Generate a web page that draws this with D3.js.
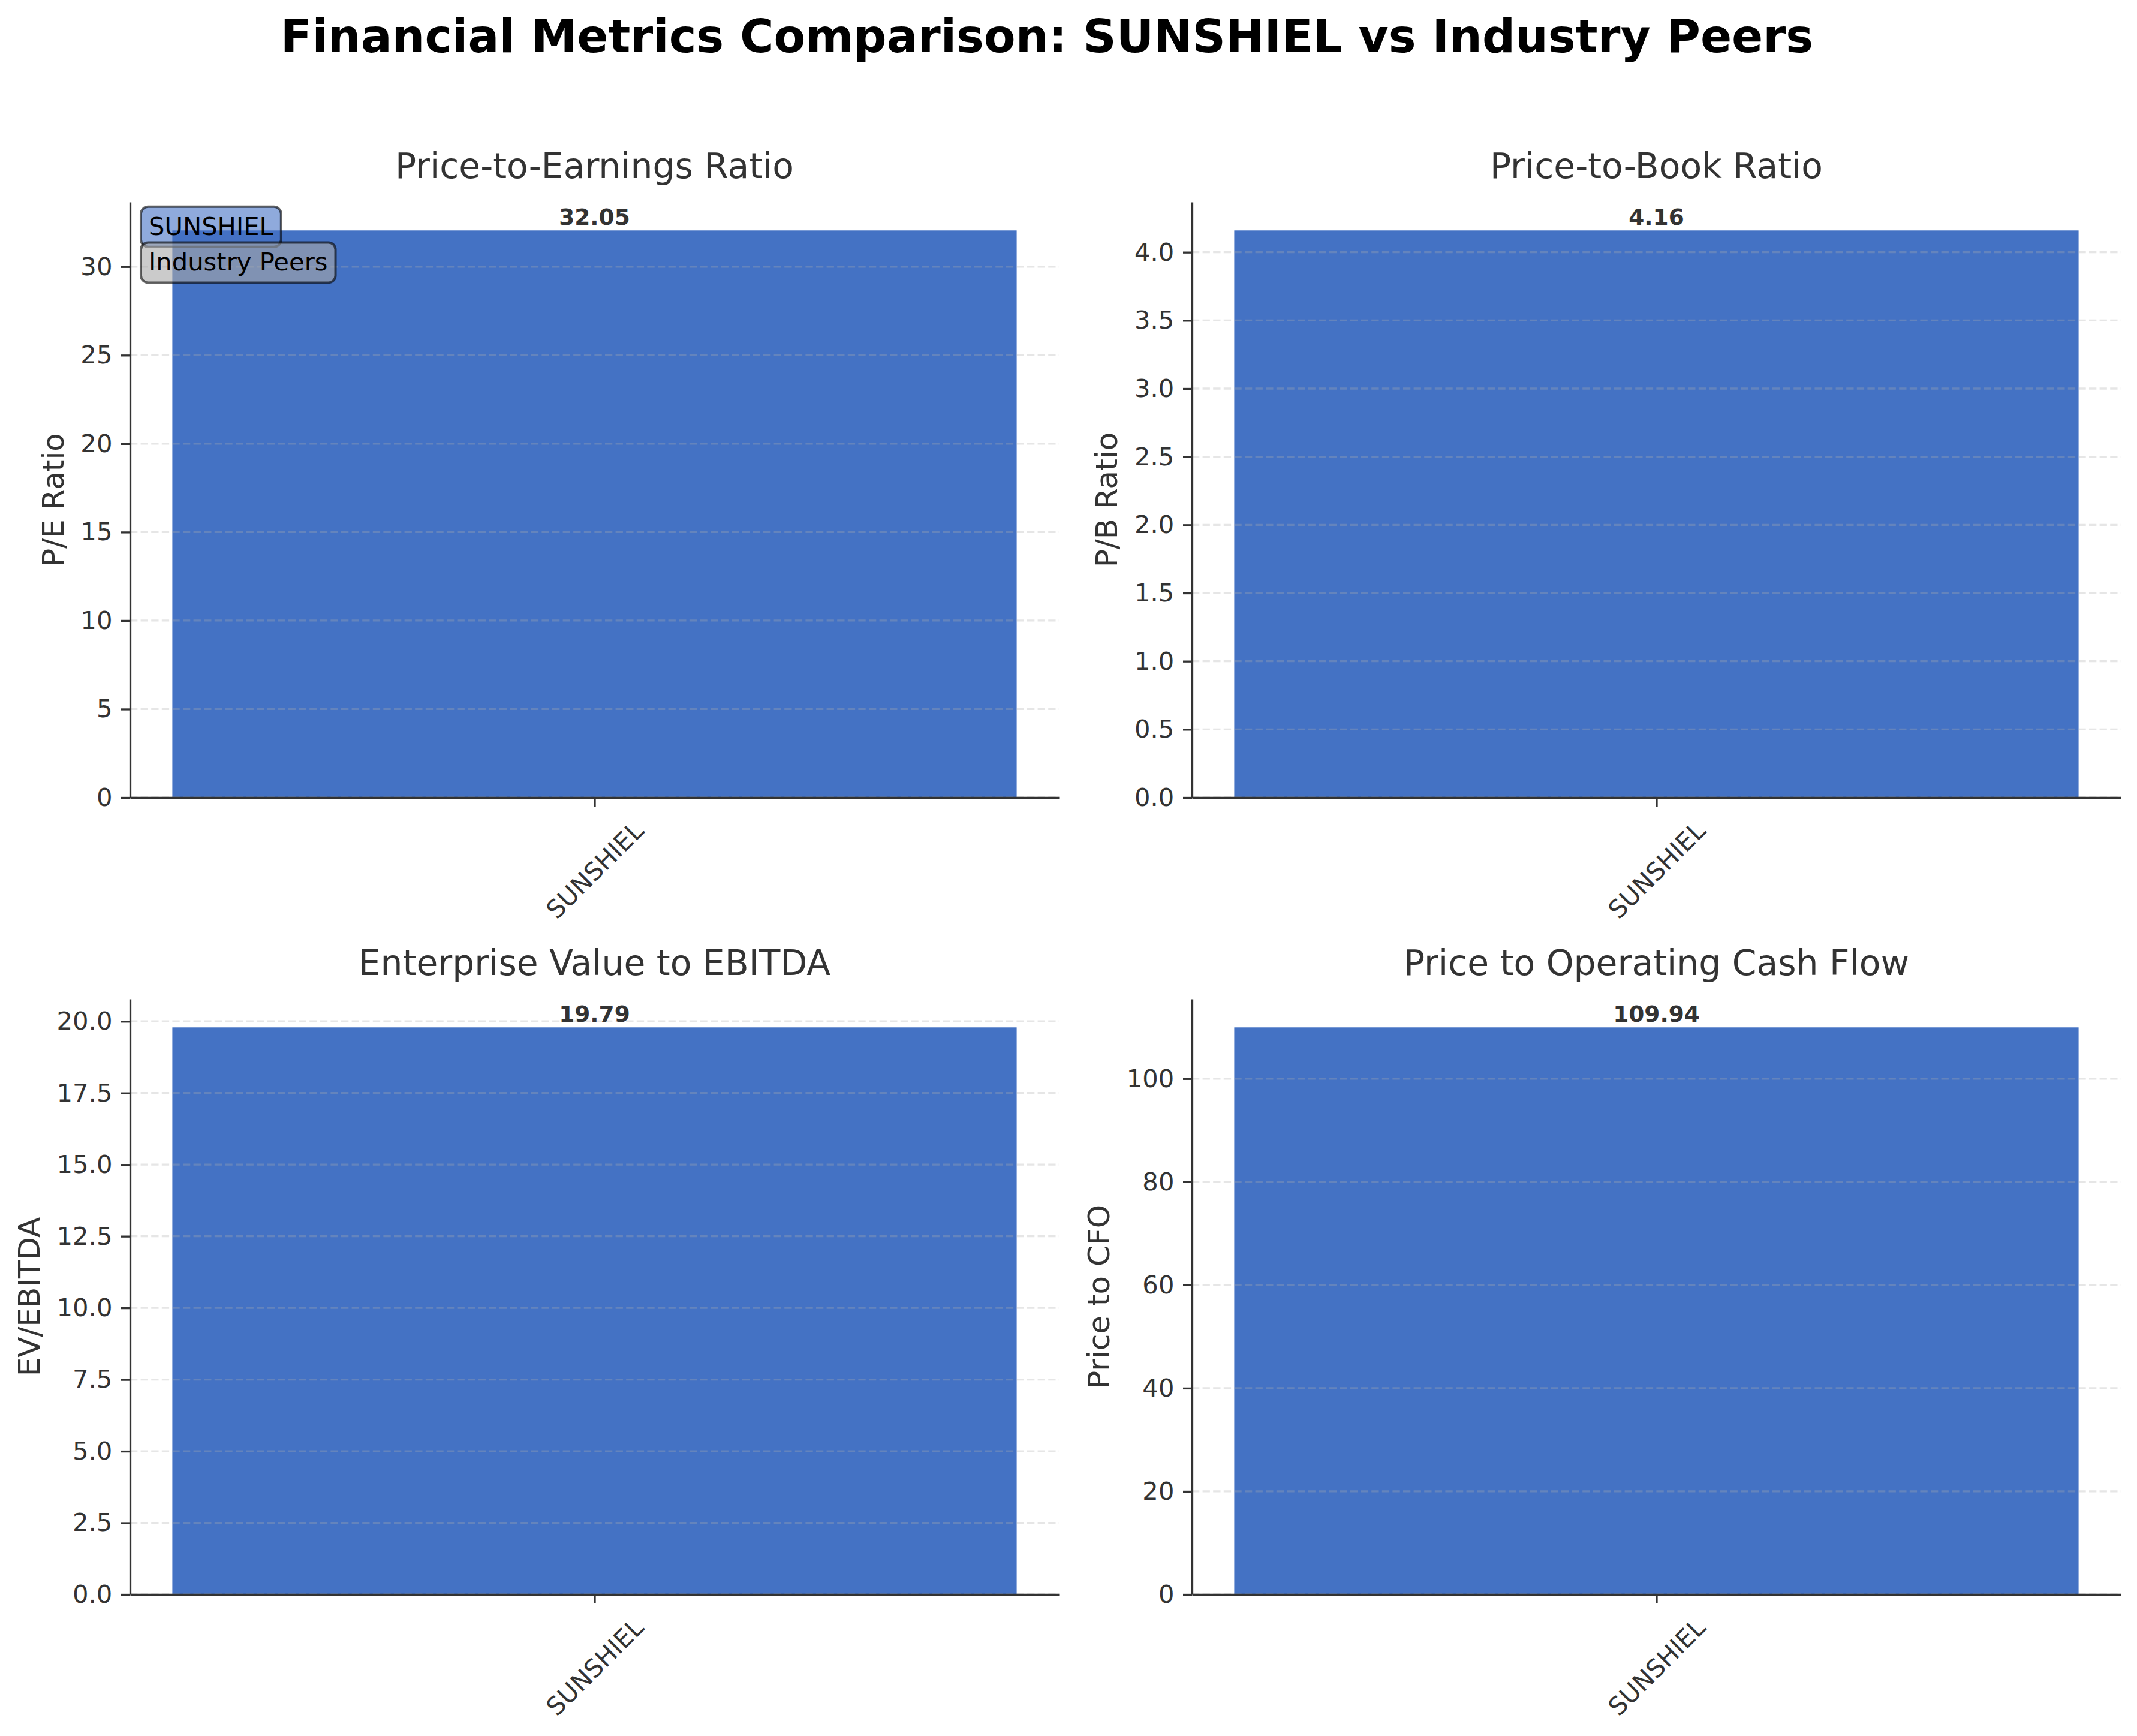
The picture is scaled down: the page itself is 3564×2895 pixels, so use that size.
<!DOCTYPE html>
<html>
<head>
<meta charset="utf-8">
<script src="https://cdnjs.cloudflare.com/ajax/libs/d3/7.8.5/d3.min.js"></script>
<style>
body{margin:0;background:#fff;}
svg{display:block;font-family:"DejaVu Sans",sans-serif;}
</style>
</head>
<body>
<div id="chart"></div>
<script>
/*Values*/
const companies = ["SUNSHIEL"];
const peRatio = [32.05];
const pbRatio = [4.16];
const evEbitda = [19.79];
const priceToCfo = [109.94];

const panelTitles = ["Price-to-Earnings Ratio", "Price-to-Book Ratio", "Enterprise Value to EBITDA", "Price to Operating Cash Flow"];
const yLabels = ["P/E Ratio", "P/B Ratio", "EV/EBITDA", "Price to CFO"];
const peTicks = [0, 5, 10, 15, 20, 25, 30];
const pbTicks = [0, 0.5, 1.0, 1.5, 2.0, 2.5, 3.0, 3.5, 4.0];
const evTicks = [0, 2.5, 5.0, 7.5, 10.0, 12.5, 15.0, 17.5, 20.0];
const cfoTicks = [0, 20, 40, 60, 80, 100];
const legendLabels = ["SUNSHIEL", "Industry Peers"];
const mainTitle = "Financial Metrics Comparison: SUNSHIEL vs Industry Peers";

/*Figure size and colours*/
const chartWidth = 3564;
const chartHeight = 2895;
const barColor = "#4472c4";
const textColor = "#333333";
const peerColor = "#a9a9a9";
const barWidth = 0.8;

/*Panel boxes (left, right, top, bottom) in pixels*/
const colX = [[217, 1766], [1988, 3537]];
const rowY = [[337, 1330], [1666, 2659]];

const panels = [
       {values: peRatio, ticks: peTicks, fmt: d3.format("d"), col: 0, row: 0, legend: true},
       {values: pbRatio, ticks: pbTicks, fmt: d3.format(".1f"), col: 1, row: 0, legend: false},
       {values: evEbitda, ticks: evTicks, fmt: d3.format(".1f"), col: 0, row: 1, legend: false},
       {values: priceToCfo, ticks: cfoTicks, fmt: d3.format("d"), col: 1, row: 1, legend: false}
];

const svg = d3.select("#chart")
       .append("svg")
       .attr("width", chartWidth)
       .attr("height", chartHeight);

svg.append("rect")
       .attr("width", chartWidth)
       .attr("height", chartHeight)
       .attr("fill", "#fff");

/*Main title*/
svg.append("text")
       .attr("x", 1746)
       .attr("y", 87)
       .attr("text-anchor", "middle")
       .style("font-size", "77px")
       .style("font-weight", "bold")
       .style("fill", "#000")
       .text(mainTitle);

panels.forEach((p, i) => {
       const left = colX[p.col][0], right = colX[p.col][1];
       const top = rowY[p.row][0], bottom = rowY[p.row][1];

       /*category index scale with a 5% margin around the bars*/
       const half = (companies.length - 1) / 2 + barWidth / 2;
       const margin = (2 * half) * 0.05;
       const xScale = d3.scaleLinear()
              .domain([-barWidth / 2 - margin, companies.length - 1 + barWidth / 2 + margin])
              .range([left, right]);

       const yScale = d3.scaleLinear()
              .domain([0, d3.max(p.values) * 1.05])
              .range([bottom, top]);

       const g = svg.append("g");

       /*Bars*/
       g.selectAll("rect.bar")
              .data(p.values)
              .enter()
              .append("rect")
              .attr("class", "bar")
              .attr("x", (d, j) => xScale(j - barWidth / 2))
              .attr("width", (d, j) => xScale(j + barWidth / 2) - xScale(j - barWidth / 2))
              .attr("y", d => yScale(d))
              .attr("height", d => yScale(0) - yScale(d))
              .style("fill", barColor);

       /*Dashed horizontal grid drawn over the bars*/
       g.selectAll("line.grid")
              .data(p.ticks)
              .enter()
              .append("line")
              .attr("x1", left)
              .attr("x2", right)
              .attr("y1", d => yScale(d))
              .attr("y2", d => yScale(d))
              .style("stroke", "#b0b0b0")
              .style("stroke-width", 3.3)
              .style("stroke-dasharray", "12.3,5.3")
              .style("opacity", 0.3);

       /*Y axis*/
       const yAxis = d3.axisLeft(yScale)
              .tickValues(p.ticks)
              .tickFormat(p.fmt)
              .tickSize(15)
              .tickSizeOuter(0)
              .tickPadding(14.6);

       const yG = g.append("g")
              .attr("transform", "translate(" + left + ",0)")
              .call(yAxis);

       yG.select(".domain").style("stroke", textColor).style("stroke-width", 3.3);
       yG.selectAll(".tick line").style("stroke", textColor).style("stroke-width", 3.3);
       yG.selectAll(".tick text")
              .style("font-size", "41.7px")
              .style("fill", textColor)
              .style("font-family", "DejaVu Sans");

       let maxW = 0;
       yG.selectAll(".tick text").each(function(){ maxW = Math.max(maxW, this.getBBox().width); });

       /*X axis*/
       const xAxis = d3.axisBottom(xScale)
              .tickValues(d3.range(companies.length))
              .tickFormat(j => companies[j])
              .tickSize(15)
              .tickSizeOuter(0);

       const xG = g.append("g")
              .attr("transform", "translate(0," + bottom + ")")
              .call(xAxis);

       xG.select(".domain").style("stroke", textColor).style("stroke-width", 3.3);
       xG.selectAll(".tick line").style("stroke", textColor).style("stroke-width", 3.3);
       xG.selectAll(".tick text")
              .attr("y", 0)
              .attr("dy", "0.35em")
              .attr("text-anchor", "middle")
              .attr("transform", "translate(0,121) rotate(-45)")
              .style("font-size", "41.7px")
              .style("fill", textColor)
              .style("font-family", "DejaVu Sans");

       /*Value labels above bars*/
       g.selectAll("text.value")
              .data(p.values)
              .enter()
              .append("text")
              .attr("class", "value")
              .attr("x", (d, j) => xScale(j))
              .attr("y", d => yScale(d) - 9)
              .attr("text-anchor", "middle")
              .style("font-size", "37.5px")
              .style("font-weight", "bold")
              .style("fill", textColor)
              .text(d => d.toFixed(2));

       /*Panel title*/
       g.append("text")
              .attr("x", (left + right) / 2)
              .attr("y", top - 40)
              .attr("text-anchor", "middle")
              .style("font-size", "58.3px")
              .style("fill", textColor)
              .text(panelTitles[i]);

       /*Y axis label*/
       const labelX = left - 15 - 14.6 - maxW - 16.7 - 12;
       g.append("text")
              .attr("transform", "translate(" + labelX + "," + ((top + bottom) / 2) + ") rotate(-90)")
              .attr("text-anchor", "middle")
              .style("font-size", "50px")
              .style("fill", textColor)
              .text(yLabels[i]);

       /*Text-box legend in the first panel*/
       if (p.legend) {
              const legendColors = [barColor, peerColor];
              const legendFracs = [0.98, 0.92];
              const textLeft = left + 0.02 * (right - left);
              legendLabels.forEach((lab, k) => {
                     const baseY = top + (1 - legendFracs[k]) * (bottom - top) + 35;
                     const lg = g.append("g");
                     const txt = lg.append("text")
                            .attr("x", textLeft)
                            .attr("y", baseY)
                            .style("font-size", "41.7px")
                            .style("fill", "#000")
                            .text(lab);
                     const w = txt.node().getComputedTextLength();
                     lg.insert("rect", "text")
                            .attr("x", textLeft - 13)
                            .attr("y", baseY - 47)
                            .attr("width", w + 26)
                            .attr("height", 67)
                            .attr("rx", 12)
                            .attr("ry", 12)
                            .style("fill", legendColors[k])
                            .style("fill-opacity", 0.6)
                            .style("stroke", "#000")
                            .style("stroke-opacity", 0.6)
                            .style("stroke-width", 4);
              });
       }
});
</script>
</body>
</html>
